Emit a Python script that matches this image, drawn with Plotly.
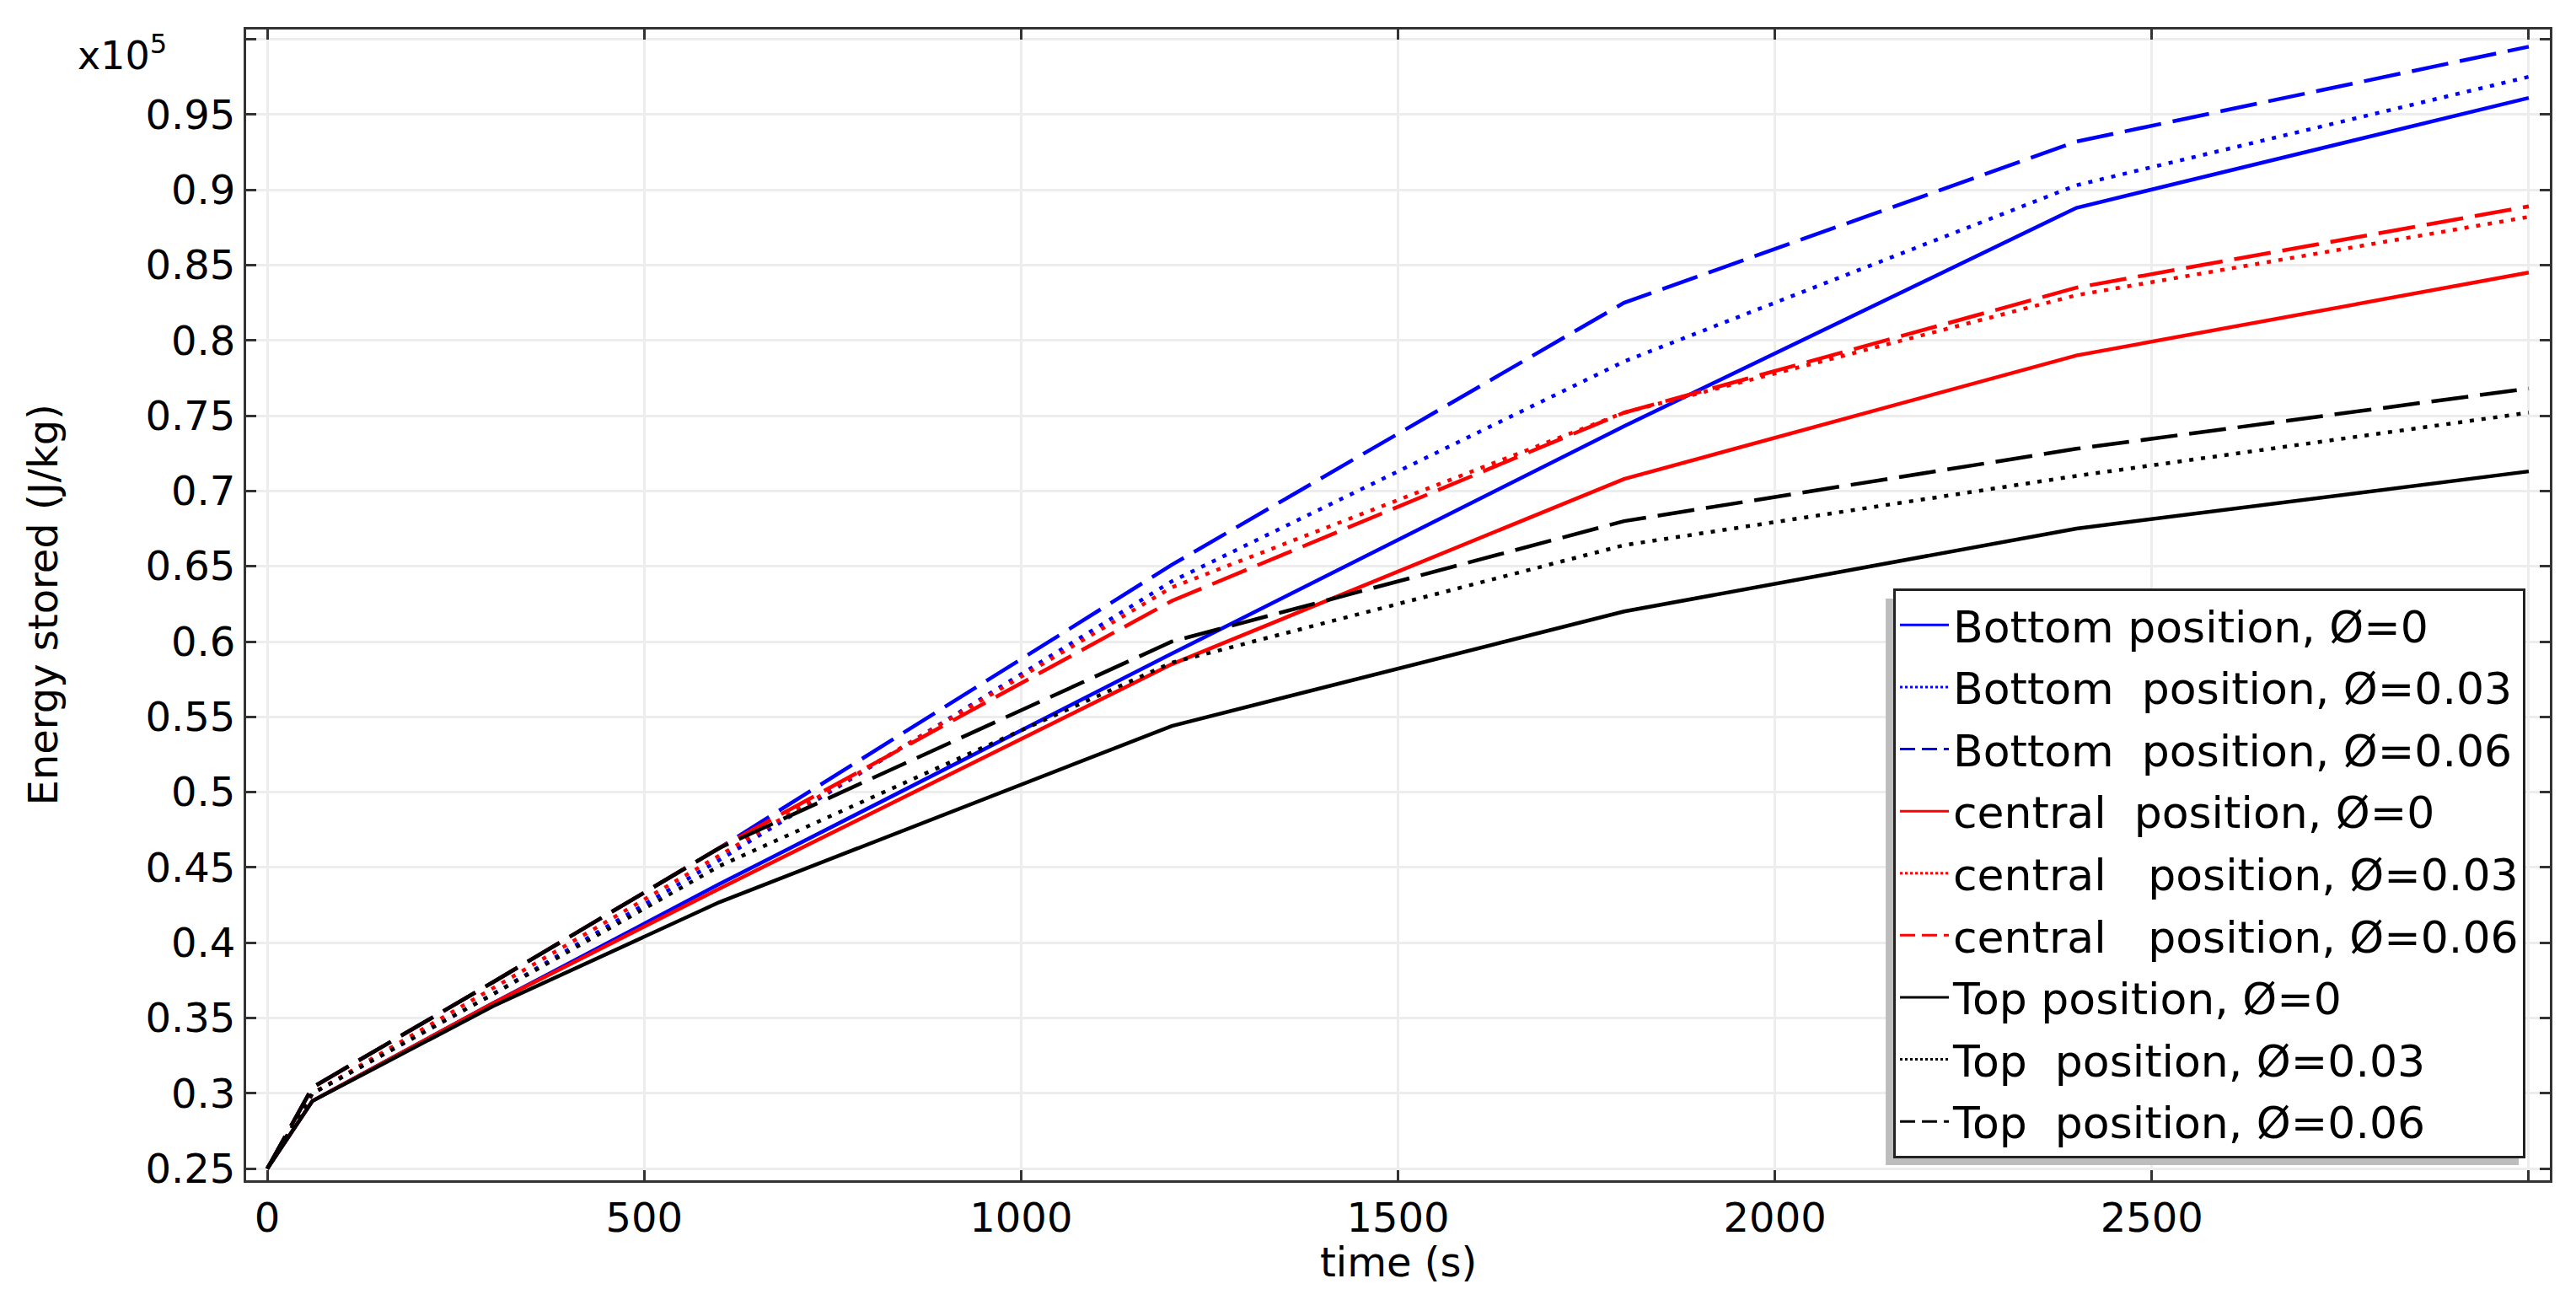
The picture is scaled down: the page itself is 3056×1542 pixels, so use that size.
import plotly.graph_objects as go

# time steps (s) and stored energy (x1e5 J/kg)
time_s = [0, 60, 300, 600, 1200, 1800, 2400, 3000]

bottom_0 = [0.25, 0.295, 0.360, 0.439, 0.592, 0.743, 0.888, 0.961]
bottom_003 = [0.25, 0.300, 0.366, 0.455, 0.640, 0.786, 0.903, 0.975]
bottom_006 = [0.25, 0.304, 0.374, 0.463, 0.651, 0.825, 0.932, 0.995]
central_0 = [0.25, 0.295, 0.360, 0.436, 0.585, 0.708, 0.790, 0.845]
central_003 = [0.25, 0.300, 0.370, 0.458, 0.636, 0.752, 0.830, 0.882]
central_006 = [0.25, 0.304, 0.374, 0.463, 0.627, 0.752, 0.835, 0.889]
top_0 = [0.25, 0.295, 0.358, 0.427, 0.544, 0.620, 0.675, 0.713]
top_003 = [0.25, 0.300, 0.366, 0.451, 0.586, 0.664, 0.710, 0.752]
top_006 = [0.25, 0.304, 0.374, 0.463, 0.600, 0.680, 0.728, 0.768]

NB = "\u00a0"
series = [
    ("Bottom position, Ø=0", bottom_0, "#0000ff", "solid"),
    ("Bottom" + NB + " position, Ø=0.03", bottom_003, "#0000ff", "dot"),
    ("Bottom" + NB + " position, Ø=0.06", bottom_006, "#0000ff", "dash"),
    ("central" + NB + " position, Ø=0", central_0, "#ff0000", "solid"),
    ("central" + NB * 2 + " position, Ø=0.03", central_003, "#ff0000", "dot"),
    ("central" + NB * 2 + " position, Ø=0.06", central_006, "#ff0000", "dash"),
    ("Top position, Ø=0", top_0, "#000000", "solid"),
    ("Top" + NB + " position, Ø=0.03", top_003, "#000000", "dot"),
    ("Top" + NB + " position, Ø=0.06", top_006, "#000000", "dash"),
]

x_ticks = [0, 500, 1000, 1500, 2000, 2500]
y_ticks = [0.25, 0.3, 0.35, 0.4, 0.45, 0.5, 0.55, 0.6, 0.65, 0.7, 0.75,
           0.8, 0.85, 0.9, 0.95]
y_ticktext = ["0.25", "0.3", "0.35", "0.4", "0.45", "0.5", "0.55", "0.6",
              "0.65", "0.7", "0.75", "0.8", "0.85", "0.9", "0.95"]

# dash patterns on the plot and (shorter) in the legend samples
plot_dash = {"solid": "solid", "dot": "5px,9px", "dash": "44px,14px"}
legend_dash = {"solid": "solid", "dot": "3px,3px", "dash": "18px,8px"}

fig = go.Figure()

for i, (name, vals, color, style) in enumerate(series):
    fig.add_trace(go.Scatter(
        x=time_s,
        y=vals,
        mode="lines",
        name=name,
        legendgroup="g%d" % i,
        showlegend=False,
        line=dict(color=color, width=4.5, dash=plot_dash[style]),
    ))
    # legend-only entry so the sample shows the dash pattern
    fig.add_trace(go.Scatter(
        x=[None],
        y=[None],
        mode="lines",
        name=name,
        legendgroup="g%d" % i,
        showlegend=True,
        line=dict(color=color, width=3, dash=legend_dash[style]),
    ))

FONT = "DejaVu Sans"

axis_common = dict(
    showline=True,
    linecolor="#333333",
    linewidth=3,
    mirror="ticks",
    ticks="inside",
    ticklen=12,
    tickwidth=3,
    tickcolor="#333333",
    showgrid=True,
    gridcolor="#ededed",
    gridwidth=3,
    zeroline=False,
    tickfont=dict(family=FONT, size=48, color="#000000"),
)

fig.update_layout(
    width=3056,
    height=1542,
    margin=dict(l=292, r=31, t=35, b=142),
    paper_bgcolor="white",
    plot_bgcolor="white",
    font=dict(family=FONT, size=48, color="#000000"),
    xaxis=dict(range=[-28, 3028], tickmode="array", tickvals=x_ticks,
               minor=dict(tickmode="array", tickvals=[3000], ticks="inside",
                          ticklen=12, tickwidth=3, tickcolor="#333333",
                          showgrid=True, gridcolor="#ededed", gridwidth=3),
               **axis_common),
    yaxis=dict(range=[0.2423, 1.0064], tickmode="array", tickvals=y_ticks,
               ticktext=y_ticktext,
               minor=dict(tickmode="array", tickvals=[1.0], ticks="inside",
                          ticklen=12, tickwidth=3, tickcolor="#333333",
                          showgrid=True, gridcolor="#ededed", gridwidth=3),
               **axis_common),
    legend=dict(
        x=0.9894, y=0.019, xanchor="right", yanchor="bottom",
        bgcolor="white", bordercolor="#222222", borderwidth=3,
        font=dict(family=FONT, size=52, color="#000000"),
        traceorder="grouped", tracegroupgap=3, itemwidth=58,
    ),
    showlegend=True,
)

# legend drop shadow (offset down and to the left)
fig.add_shape(type="rect", xref="paper", yref="paper",
              x0=0.7117, x1=0.9865, y0=0.0132, y1=0.5055,
              fillcolor="#bdbdbd", line=dict(width=0), layer="above")

# axis titles and exponent label
fig.add_annotation(text="time (s)", xref="paper", yref="paper",
                   x=0.5, y=-0.0711, xanchor="center", yanchor="middle",
                   showarrow=False, font=dict(family=FONT, size=48))
fig.add_annotation(text="Energy stored (J/kg)", xref="paper", yref="paper",
                   x=-0.0882, y=0.5, xanchor="center", yanchor="middle",
                   textangle=-90, showarrow=False,
                   font=dict(family=FONT, size=48))
fig.add_annotation(text="x10<sup>5</sup>", xref="paper", yref="paper",
                   x=-0.0335, y=0.9795, xanchor="right", yanchor="middle",
                   showarrow=False, font=dict(family=FONT, size=46))

fig.write_html("out.html", config={"displayModeBar": False},
               post_script="document.body.style.margin='0';")
